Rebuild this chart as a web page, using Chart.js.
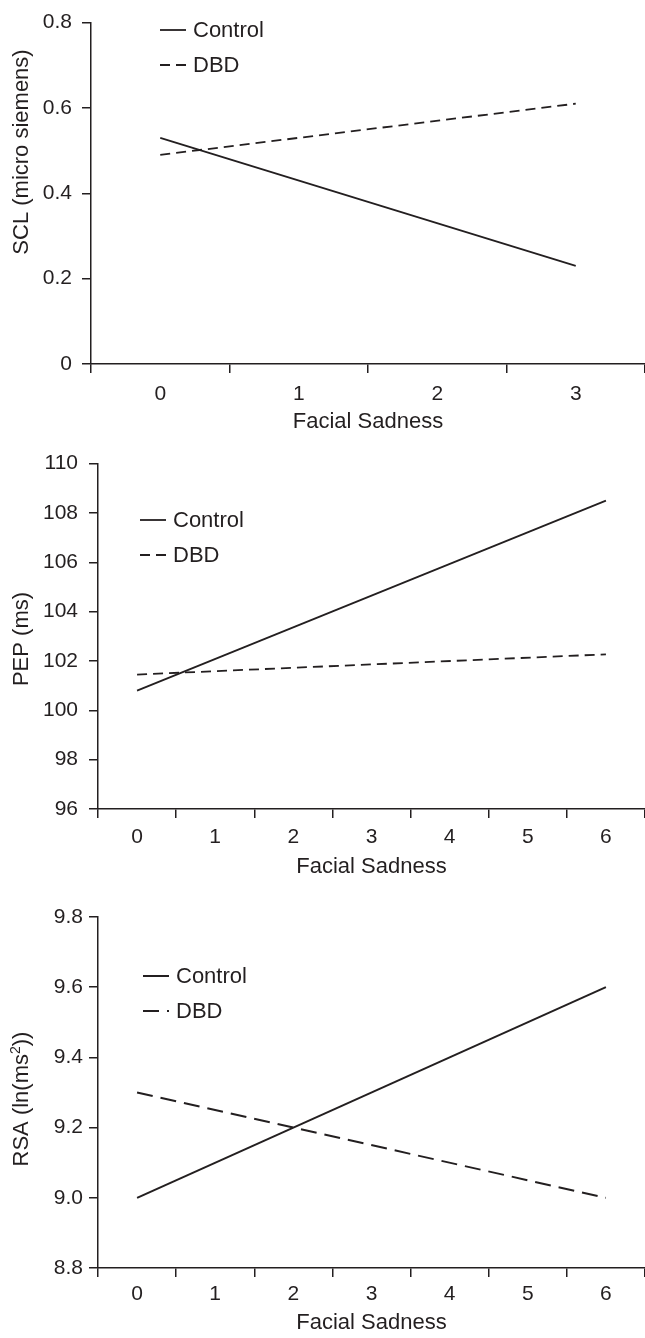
<!DOCTYPE html>
<html>
<head>
<meta charset="utf-8">
<script src="https://cdn.jsdelivr.net/npm/chart.js@4.4.1/dist/chart.umd.min.js"></script>
<style>
  body { margin: 0; background: #fff; }
  canvas { display: block; }
</style>
</head>
<body>
<canvas id="scl" width="645" height="440"></canvas>
<canvas id="pep" width="645" height="450"></canvas>
<canvas id="rsa" width="645" height="448"></canvas>
<script>
// facial sadness categories for each panel
const sclCats = ['0', '1', '2', '3'];
const pepCats = ['0', '1', '2', '3', '4', '5', '6'];
const rsaCats = ['0', '1', '2', '3', '4', '5', '6'];

// each line is drawn between its two end points
const sclX = ['0', '3'];
const sclControl = [0.53, 0.23];
const sclDBD = [0.49, 0.61];

const pepX = ['0', '6'];
const pepControl = [100.8, 108.5];
const pepDBD = [101.45, 102.27];

const rsaX = ['0', '6'];
const rsaControl = [9.0, 9.6];
const rsaDBD = [9.3, 9.0];

const ink = '#231f20';
const fam = '"Liberation Sans", Arial, Helvetica, sans-serif';

// rotated y axis title, placed by hand; parts marked sup are raised and smaller
const sideTitle = {
  id: 'sideTitle',
  afterDraw(chart, args, opts) {
    const ctx = chart.ctx;
    const big = '22px ' + fam, small = '14px ' + fam;
    ctx.save();
    ctx.translate(opts.x, opts.y);
    ctx.rotate(-Math.PI / 2);
    ctx.fillStyle = ink;
    ctx.textBaseline = 'middle';
    let total = 0;
    opts.parts.forEach(p => { ctx.font = p.sup ? small : big; total += ctx.measureText(p.t).width; });
    let x = -total / 2;
    opts.parts.forEach(p => {
      ctx.font = p.sup ? small : big;
      ctx.fillText(p.t, x, p.sup ? -6 : 0);
      x += ctx.measureText(p.t).width;
    });
    ctx.restore();
  }
};

// legend drawn inside the plot
const insideLegend = {
  id: 'insideLegend',
  afterDraw(chart, args, opts) {
    const ctx = chart.ctx;
    chart.data.datasets.forEach((ds, i) => {
      const y = opts.y + i * opts.gap;
      ctx.save();
      ctx.strokeStyle = ds.borderColor;
      ctx.lineWidth = ds.borderWidth;
      ctx.setLineDash(ds.borderDash || []);
      ctx.beginPath();
      ctx.moveTo(opts.x, y);
      ctx.lineTo(opts.x + 26, y);
      ctx.stroke();
      ctx.setLineDash([]);
      ctx.fillStyle = ink;
      ctx.font = '22px ' + fam;
      ctx.textBaseline = 'middle';
      ctx.fillText(ds.label, opts.x + 33, y + 1);
      ctx.restore();
    });
  }
};

function pts(xs, ys) {
  return xs.map((x, i) => ({ x: x, y: ys[i] }));
}

function makeChart(id, cfg) {
  new Chart(document.getElementById(id), {
    type: 'line',
    data: {
      labels: cfg.cats,
      datasets: [{
        label: 'Control',
        data: pts(cfg.xs, cfg.control),
        borderColor: ink,
        borderWidth: cfg.lw,
        pointRadius: 0
      }, {
        label: 'DBD',
        data: pts(cfg.xs, cfg.dbd),
        borderColor: ink,
        borderWidth: cfg.lw,
        borderDash: cfg.dash,
        pointRadius: 0
      }]
    },
    options: {
      responsive: false,
      animation: false,
      layout: { padding: { top: cfg.top, left: 0, right: 0, bottom: 0 } },
      plugins: {
        legend: { display: false },
        tooltip: { enabled: false },
        sideTitle: { parts: cfg.ytitle, x: 22, y: cfg.ytitleY },
        insideLegend: cfg.legend
      },
      scales: {
        x: {
          type: 'category',
          offset: true,
          grid: { offset: true, drawOnChartArea: false, drawTicks: true, tickLength: 9, color: ink, lineWidth: 1.5 },
          border: { color: ink, width: 1.5 },
          ticks: { color: ink, font: { family: fam, size: 21 }, padding: cfg.xpad, maxRotation: 0 },
          title: { display: true, text: 'Facial Sadness', color: ink, font: { family: fam, size: 22 }, padding: { top: 0, bottom: cfg.xtitlePad } },
          afterFit: (s) => { s.height = cfg.xh; }
        },
        y: {
          min: cfg.ymin,
          max: cfg.ymax,
          grid: { drawOnChartArea: false, drawTicks: true, tickLength: 9, color: ink, lineWidth: 1.5 },
          border: { color: ink, width: 1.5 },
          ticks: { stepSize: cfg.step, color: ink, font: { family: fam, size: 21 }, padding: cfg.ypad, callback: cfg.fmt },
          afterFit: (s) => { s.width = cfg.left; }
        }
      }
    },
    plugins: [sideTitle, insideLegend]
  });
}

makeChart('scl', {
  cats: sclCats, xs: sclX, control: sclControl, dbd: sclDBD,
  lw: 1.8, dash: [10, 6],
  ymin: 0, ymax: 0.8, step: 0.2, fmt: (v) => (v === 0 ? '0' : v.toFixed(1)),
  top: 14, left: 91, xh: 76, xpad: 9, xtitlePad: 5, ypad: 10,
  ytitle: [{ t: 'SCL (micro siemens)' }], ytitleY: 152,
  legend: { x: 160, y: 30, gap: 35 }
});

makeChart('pep', {
  cats: pepCats, xs: pepX, control: pepControl, dbd: pepDBD,
  lw: 1.8, dash: [10, 6],
  ymin: 96, ymax: 110, step: 2, fmt: (v) => String(v),
  top: 18, left: 98, xh: 81, xpad: 7, xtitlePad: 10, ypad: 11,
  ytitle: [{ t: 'PEP (ms)' }], ytitleY: 199,
  legend: { x: 140, y: 80, gap: 35 }
});

makeChart('rsa', {
  cats: rsaCats, xs: rsaX, control: rsaControl, dbd: rsaDBD,
  lw: 2, dash: [16, 8],
  ymin: 8.8, ymax: 9.8, step: 0.2, fmt: (v) => v.toFixed(1),
  top: 27, left: 98, xh: 70, xpad: 5, xtitlePad: 2, ypad: 6,
  ytitle: [{ t: 'RSA (ln(ms' }, { t: '2', sup: true }, { t: '))' }], ytitleY: 209,
  legend: { x: 143, y: 86, gap: 35 }
});
</script>
</body>
</html>
